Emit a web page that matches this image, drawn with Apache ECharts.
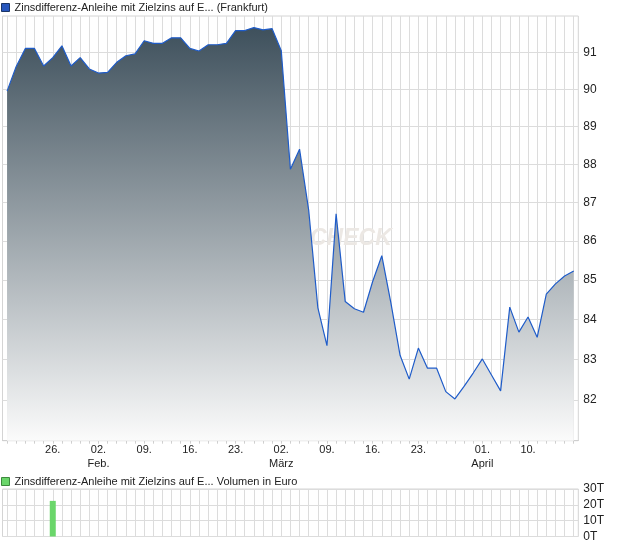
<!DOCTYPE html>
<html>
<head>
<meta charset="utf-8">
<script src="https://cdn.jsdelivr.net/npm/echarts@6/dist/echarts.min.js"></script>
<style>
html,body{margin:0;padding:0;background:#fff;}
#c{width:620px;height:546px;}
</style>
</head>
<body>
<div id="c"></div>
<script>
const days = [
 '2015-01-19','2015-01-20','2015-01-21','2015-01-22','2015-01-23',
 '2015-01-26','2015-01-27','2015-01-28','2015-01-29','2015-01-30',
 '2015-02-02','2015-02-03','2015-02-04','2015-02-05','2015-02-06',
 '2015-02-09','2015-02-10','2015-02-11','2015-02-12','2015-02-13',
 '2015-02-16','2015-02-17','2015-02-18','2015-02-19','2015-02-20',
 '2015-02-23','2015-02-24','2015-02-25','2015-02-26','2015-02-27',
 '2015-03-02','2015-03-03','2015-03-04','2015-03-05','2015-03-06',
 '2015-03-09','2015-03-10','2015-03-11','2015-03-12','2015-03-13',
 '2015-03-16','2015-03-17','2015-03-18','2015-03-19','2015-03-20',
 '2015-03-23','2015-03-24','2015-03-25','2015-03-26','2015-03-27',
 '2015-03-30','2015-03-31','2015-04-01','2015-04-02','2015-04-07',
 '2015-04-08','2015-04-09','2015-04-10','2015-04-13','2015-04-14',
 '2015-04-15','2015-04-16','2015-04-17'
];
const prices = [
 89.95, 90.62, 91.11, 91.11, 90.63,
 90.86, 91.18, 90.63, 90.86, 90.55,
 90.44, 90.46, 90.73, 90.91, 90.96,
 91.32, 91.25, 91.25, 91.40, 91.40,
 91.11, 91.04, 91.21, 91.21, 91.25,
 91.60, 91.60, 91.68, 91.62, 91.65,
 91.05, 87.87, 88.40, 86.80, 84.30,
 83.34, 86.70, 84.45, 84.27, 84.18,
 84.96, 85.62, 84.41, 83.10, 82.51,
 83.28, 82.78, 82.78, 82.20, 82.02,
 82.33, 82.66, 83.01, 82.61, 82.22,
 84.31, 83.68, 84.06, 83.55, 84.64,
 84.90, 85.10, 85.23
];
const volumes = [
 null, null, null, null, null,
 22500, null, null, null, null,
 null, null, null, null, null,
 null, null, null, null, null,
 null, null, null, null, null,
 null, null, null, null, null,
 null, null, null, null, null,
 null, null, null, null, null,
 null, null, null, null, null,
 null, null, null, null, null,
 null, null, null, null, null,
 null, null, null, null, null,
 null, null, null
];
const xTickLabels = {
 '2015-01-26':'26.', '2015-02-02':'02.\nFeb.', '2015-02-09':'09.', '2015-02-16':'16.',
 '2015-02-23':'23.', '2015-03-02':'02.\nMärz', '2015-03-09':'09.', '2015-03-16':'16.',
 '2015-03-23':'23.', '2015-04-01':'01.\nApril', '2015-04-10':'10.'
};
const priceTicks = [82, 83, 84, 85, 86, 87, 88, 89, 90, 91];
const volumeTicks = [0, 10000, 20000, 30000];
const priceName = 'Zinsdifferenz-Anleihe mit Zielzins auf E... (Frankfurt)';
const volumeName = 'Zinsdifferenz-Anleihe mit Zielzins auf E... Volumen in Euro';

const dayIdx = days.map((d, i) => i);
const labelIdx = Object.keys(xTickLabels).map(d => days.indexOf(d));
const FONT = 'Liberation Sans, Arial, sans-serif';
const GRID = '#dcdcdc';

const chart = echarts.init(document.getElementById('c'), null, {renderer: 'canvas'});
chart.setOption({
  animation: false,
  textStyle: {fontFamily: FONT},
  legend: [
    {left: 1, top: 2, itemWidth: 8, itemHeight: 8, itemGap: 5, padding: 0,
     textStyle: {fontSize: 11, color: '#222', fontFamily: FONT},
     data: [{name: priceName, icon: 'rect', itemStyle: {color: '#2756bd', borderColor: '#1b3566', borderWidth: 1}}]},
    {left: 1, top: 476, itemWidth: 8, itemHeight: 8, itemGap: 5, padding: 0,
     textStyle: {fontSize: 11, color: '#222', fontFamily: FONT},
     data: [{name: volumeName, icon: 'rect', itemStyle: {color: '#6ad66a', borderColor: '#3d8a3d', borderWidth: 1}}]}
  ],
  grid: [
    {left: 2.5, right: 41.7, top: 16, bottom: 105.3, show: true, borderColor: '#d4d4d4', borderWidth: 1, containLabel: false},
    {left: 2.5, right: 41.7, top: 489, bottom: 9.5, show: true, borderColor: '#d4d4d4', borderWidth: 1, containLabel: false}
  ],
  xAxis: [
    {type: 'value', gridIndex: 0, min: -0.5, max: days.length - 0.5,
     axisLine: {show: true, lineStyle: {color: '#cfcfcf'}},
     axisTick: {show: true, length: 3, customValues: dayIdx, lineStyle: {color: '#cfcfcf'}},
     splitLine: {show: true, lineStyle: {color: GRID, width: 1}},
     axisLabel: {customValues: labelIdx, margin: 2, fontSize: 11, color: '#222', lineHeight: 14,
       formatter: v => xTickLabels[days[Math.round(v)]] || ''}},
    {type: 'value', gridIndex: 1, min: -0.5, max: days.length - 0.5,
     axisLine: {show: false},
     axisTick: {show: false, customValues: dayIdx},
     splitLine: {show: true, lineStyle: {color: GRID, width: 1}},
     axisLabel: {show: false}}
  ],
  yAxis: [
    {type: 'log', gridIndex: 0, position: 'right', min: 81, max: 92,
     axisLine: {show: false},
     axisTick: {show: false, customValues: priceTicks},
     splitLine: {show: true, lineStyle: {color: GRID, width: 1}},
     axisLabel: {customValues: priceTicks, margin: 5, fontSize: 12, color: '#222'}},
    {type: 'value', gridIndex: 1, position: 'right', min: 0, max: 30000, interval: 10000,
     axisLine: {show: false}, axisTick: {show: false},
     splitLine: {show: true, lineStyle: {color: GRID, width: 1}},
     axisLabel: {margin: 5, fontSize: 12, color: '#222', formatter: v => (v / 1000) + 'T'}}
  ],
  graphic: [
    {type: 'text', left: 310, top: 227, z: 1, silent: true,
     style: {text: 'CHECK', fill: '#ece8e4', font: 'italic bold 23px ' + FONT}}
  ],
  series: [
    {name: priceName, type: 'line', xAxisIndex: 0, yAxisIndex: 0,
     data: prices.map((v, i) => [i, v]),
     showSymbol: false, symbol: 'none', z: 3,
     lineStyle: {color: '#1f5cc9', width: 1.2},
     itemStyle: {color: '#2756bd'},
     areaStyle: {origin: 'start', opacity: 1,
       color: new echarts.graphic.LinearGradient(0, 0, 0, 1, [
         {offset: 0, color: '#3e505c'},
         {offset: 1, color: '#fbfbfb'}
       ])}},
    {name: volumeName, type: 'bar', xAxisIndex: 1, yAxisIndex: 1,
     data: volumes.map((v, i) => [i, v]),
     barWidth: 6, itemStyle: {color: '#6ad66a'}}
  ]
});
</script>
</body>
</html>
